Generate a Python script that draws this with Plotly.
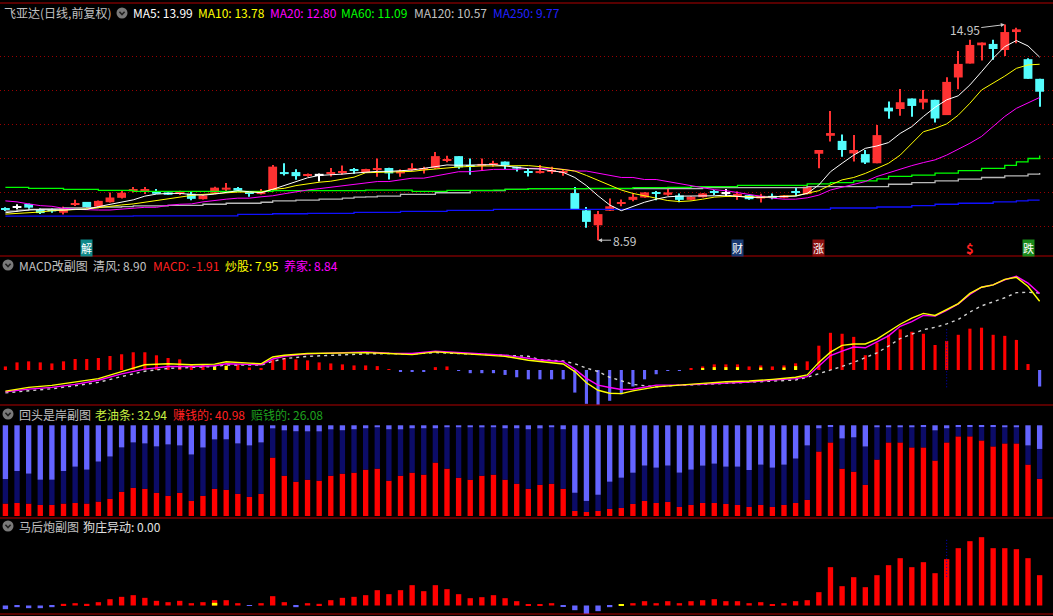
import plotly.graph_objects as go

# ------------------------------------------------------------------ data
opens = [9.54, 9.58, 9.66, 9.50, 9.50, 9.40, 9.64, 9.72, 9.58, 9.71,
         9.84, 10.03, 10.07, 10.03, 10.00, 9.98, 9.96, 9.80, 9.99, 10.08,
         10.13, 9.99, 9.95, 10.07, 10.60, 10.60, 10.50, 10.53, 10.57, 10.59,
         10.67, 10.59, 10.69, 10.72, 10.56, 10.66, 10.67, 10.72, 10.94, 11.07,
         10.78, 10.78, 10.82, 10.91, 10.76, 10.61, 10.57, 10.63, 10.59, 9.98,
         9.47, 9.03, 9.46, 9.67, 9.78, 9.85, 9.99, 9.93, 9.91, 9.78,
         9.86, 10.01, 9.99, 9.93, 9.92, 9.82, 9.89, 9.84, 10.03, 9.95,
         11.14, 11.67, 11.52, 11.15, 11.13, 10.86, 12.50, 12.46, 12.77, 12.65,
         12.73, 12.28, 13.39, 13.80, 14.34, 14.38, 14.20, 14.73, 13.93, 13.35]
highs = [9.56, 9.65, 9.67, 9.53, 9.53, 9.58, 9.78, 9.72, 9.76, 10.00,
         10.05, 10.16, 10.16, 10.10, 10.00, 10.05, 10.02, 9.92, 10.17, 10.28,
         10.16, 10.02, 10.10, 10.81, 10.86, 10.68, 10.56, 10.56, 10.72, 10.79,
         10.72, 10.70, 11.00, 10.73, 10.68, 10.86, 10.76, 11.19, 11.08, 11.07,
         11.00, 11.00, 10.93, 10.91, 10.76, 10.69, 10.81, 10.76, 10.66, 10.16,
         9.57, 9.45, 9.82, 9.79, 9.97, 10.01, 10.04, 10.10, 9.97, 9.89,
         9.98, 10.07, 10.10, 10.03, 9.92, 9.96, 9.97, 9.92, 10.15, 10.18,
         11.25, 12.40, 11.71, 11.69, 11.25, 11.99, 12.68, 13.05, 12.77, 13.02,
         12.73, 13.40, 14.17, 14.50, 14.42, 14.50, 14.95, 14.86, 13.96, 13.35]
lows = [9.45, 9.50, 9.52, 9.36, 9.40, 9.35, 9.60, 9.57, 9.57, 9.70,
        9.82, 10.00, 9.95, 9.96, 9.93, 9.92, 9.77, 9.79, 9.98, 10.03,
        10.02, 9.87, 9.94, 10.03, 10.50, 10.37, 10.46, 10.32, 10.47, 10.52,
        10.55, 10.58, 10.46, 10.38, 10.46, 10.64, 10.56, 10.70, 10.89, 10.70,
        10.52, 10.66, 10.76, 10.69, 10.62, 10.47, 10.56, 10.55, 10.49, 9.50,
        8.96, 8.59, 9.45, 9.59, 9.74, 9.84, 9.77, 9.90, 9.71, 9.77,
        9.85, 9.92, 9.88, 9.78, 9.78, 9.70, 9.80, 9.83, 9.89, 9.94,
        10.71, 11.50, 11.05, 10.91, 10.84, 10.86, 12.17, 12.26, 12.23, 12.45,
        12.06, 12.28, 13.04, 13.80, 13.89, 13.91, 14.02, 14.40, 13.35, 12.53]
closes = [9.48, 9.58, 9.55, 9.39, 9.44, 9.54, 9.66, 9.57, 9.75, 9.85,
          9.99, 10.10, 10.09, 9.96, 9.93, 10.00, 9.81, 9.91, 10.14, 10.14,
          10.05, 9.97, 10.03, 10.76, 10.54, 10.48, 10.52, 10.53, 10.59, 10.61,
          10.65, 10.69, 10.71, 10.56, 10.63, 10.72, 10.69, 11.07, 10.96, 10.74,
          10.76, 10.84, 10.86, 10.79, 10.70, 10.59, 10.63, 10.65, 10.61, 9.50,
          9.13, 9.36, 9.59, 9.69, 9.87, 10.00, 9.97, 10.00, 9.78, 9.87,
          9.97, 9.99, 9.99, 9.95, 9.80, 9.90, 9.87, 9.91, 10.01, 10.17,
          11.25, 11.75, 11.25, 11.25, 10.88, 11.69, 12.39, 12.66, 12.55, 12.76,
          12.18, 13.26, 13.79, 14.35, 14.42, 14.23, 14.73, 14.81, 13.35, 12.97]

ma5 = [9.40, 9.45, 9.48, 9.49, 9.48, 9.48, 9.50, 9.50, 9.58, 9.65,
       9.71, 9.78, 9.89, 9.95, 9.97, 9.97, 9.94, 9.92, 9.95, 10.00,
       10.05, 10.02, 9.99, 10.09, 10.21, 10.31, 10.43, 10.50, 10.51, 10.54,
       10.57, 10.60, 10.62, 10.62, 10.63, 10.66, 10.71, 10.77, 10.81, 10.80,
       10.80, 10.82, 10.82, 10.78, 10.73, 10.70, 10.69, 10.65, 10.59, 10.44,
       10.20, 9.90, 9.63, 9.46, 9.58, 9.71, 9.80, 9.87, 9.89, 9.89,
       9.88, 9.90, 9.92, 9.89, 9.85, 9.86, 9.86, 9.88, 9.89, 9.97,
       10.22, 10.61, 10.86, 11.10, 11.30, 11.37, 11.47, 11.74, 11.94, 12.24,
       12.51, 12.73, 12.85, 13.17, 13.56, 13.96, 14.30, 14.48, 14.32, 13.99]
ma10 = [9.36, 9.38, 9.39, 9.42, 9.46, 9.48, 9.48, 9.51, 9.55, 9.60,
        9.63, 9.66, 9.71, 9.78, 9.83, 9.88, 9.91, 9.94, 9.97, 10.00,
        10.01, 10.01, 10.01, 10.09, 10.12, 10.20, 10.26, 10.30, 10.33, 10.38,
        10.45, 10.58, 10.59, 10.59, 10.60, 10.62, 10.66, 10.70, 10.72, 10.75,
        10.77, 10.78, 10.78, 10.79, 10.79, 10.79, 10.76, 10.72, 10.68, 10.63,
        10.50, 10.36, 10.22, 10.07, 9.97, 9.90, 9.82, 9.76, 9.73, 9.75,
        9.80, 9.86, 9.88, 9.89, 9.88, 9.85, 9.88, 9.89, 9.90, 9.97,
        10.05, 10.22, 10.37, 10.44, 10.56, 10.71, 10.86, 11.10, 11.45, 11.79,
        11.89, 12.02, 12.28, 12.63, 13.02, 13.22, 13.43, 13.66, 13.76, 13.78]
ma20 = [9.75, 9.72, 9.66, 9.61, 9.59, 9.53, 9.50, 9.48, 9.48, 9.48,
        9.51, 9.53, 9.56, 9.56, 9.62, 9.65, 9.66, 9.72, 9.77, 9.80,
        9.83, 9.83, 9.87, 9.90, 9.96, 10.02, 10.07, 10.11, 10.15, 10.19,
        10.25, 10.27, 10.32, 10.32, 10.37, 10.42, 10.42, 10.48, 10.56, 10.61,
        10.61, 10.64, 10.68, 10.68, 10.68, 10.71, 10.71, 10.71, 10.68, 10.63,
        10.63, 10.56, 10.51, 10.44, 10.44, 10.38, 10.38, 10.32, 10.27, 10.21,
        10.15, 10.08, 10.05, 9.99, 9.95, 9.88, 9.83, 9.80, 9.80, 9.84,
        9.92, 10.07, 10.15, 10.24, 10.32, 10.47, 10.58, 10.68, 10.79, 10.88,
        10.96, 11.10, 11.27, 11.45, 11.65, 11.94, 12.24, 12.48, 12.63, 12.80]
ma60 = [10.15, 10.15, 10.12, 10.12, 10.12, 10.09, 10.09, 10.09, 10.06, 10.06,
        10.06, 10.03, 10.03, 10.03, 10.03, 10.03, 10.03, 10.03, 10.03, 10.03,
        10.03, 10.03, 10.03, 10.05, 10.05, 10.05, 10.05, 10.05, 10.05, 10.05,
        10.05, 10.07, 10.07, 10.07, 10.07, 10.03, 10.03, 10.03, 10.06, 10.06,
        10.06, 10.06, 10.07, 10.09, 10.09, 10.11, 10.11, 10.11, 10.11, 10.11,
        10.12, 10.12, 10.12, 10.12, 10.14, 10.14, 10.14, 10.15, 10.15, 10.17,
        10.17, 10.17, 10.17, 10.21, 10.21, 10.21, 10.21, 10.21, 10.21, 10.25,
        10.25, 10.29, 10.29, 10.34, 10.34, 10.40, 10.47, 10.47, 10.51, 10.51,
        10.57, 10.57, 10.64, 10.64, 10.71, 10.71, 10.80, 10.90, 11.00, 11.09]
ma120 = [9.45, 9.48, 9.50, 9.51, 9.51, 9.54, 9.54, 9.55, 9.57, 9.57,
         9.58, 9.60, 9.60, 9.60, 9.62, 9.62, 9.62, 9.65, 9.65, 9.68,
         9.68, 9.68, 9.71, 9.75, 9.75, 9.77, 9.77, 9.80, 9.80, 9.83,
         9.86, 9.87, 9.89, 9.89, 9.94, 9.94, 9.94, 9.99, 9.99, 9.99,
         10.05, 10.05, 10.05, 10.09, 10.09, 10.11, 10.11, 10.11, 10.11, 10.11,
         10.11, 10.11, 10.11, 10.11, 10.11, 10.11, 10.11, 10.11, 10.11, 10.11,
         10.14, 10.14, 10.14, 10.14, 10.14, 10.14, 10.14, 10.14, 10.14, 10.17,
         10.17, 10.17, 10.17, 10.17, 10.17, 10.17, 10.24, 10.24, 10.29, 10.29,
         10.34, 10.34, 10.39, 10.39, 10.44, 10.44, 10.49, 10.49, 10.54, 10.57]
ma250 = [9.30, 9.30, 9.30, 9.30, 9.30, 9.30, 9.30, 9.30, 9.30, 9.30,
         9.30, 9.31, 9.31, 9.31, 9.31, 9.31, 9.31, 9.31, 9.31, 9.31,
         9.35, 9.35, 9.35, 9.37, 9.37, 9.37, 9.38, 9.38, 9.38, 9.38,
         9.41, 9.41, 9.41, 9.41, 9.44, 9.44, 9.44, 9.44, 9.47, 9.47,
         9.47, 9.47, 9.50, 9.50, 9.50, 9.50, 9.50, 9.50, 9.50, 9.50,
         9.50, 9.50, 9.50, 9.50, 9.50, 9.50, 9.50, 9.50, 9.50, 9.50,
         9.50, 9.50, 9.50, 9.50, 9.50, 9.50, 9.50, 9.50, 9.50, 9.50,
         9.50, 9.54, 9.54, 9.54, 9.54, 9.57, 9.57, 9.57, 9.61, 9.61,
         9.65, 9.65, 9.68, 9.68, 9.68, 9.72, 9.72, 9.75, 9.77, 9.77]

# MACD sub-chart
macd_hist = [0.41, 0.88, 1.00, 0.88, 0.76, 1.00, 1.27, 1.27, 1.39, 1.62,
             1.82, 2.05, 2.05, 1.70, 1.39, 1.23, 0.61, 0.61, 0.41, 0.49,
             0.61, 0.29, 0.18, 1.19, 1.39, 1.23, 1.11, 0.88, 0.76, 0.65,
             0.53, 0.53, 0.45, 0.06, -0.18, -0.18, -0.18, 0.33, 0.41, -0.06,
             -0.37, -0.37, -0.37, -0.57, -0.84, -1.08, -1.08, -1.08, -1.08, -2.61,
             -3.91, -4.03, -3.56, -2.81, -1.91, -1.08, -0.49, -0.06, -0.06, 0.18,
             0.41, 0.65, 0.65, 0.65, 0.41, 0.53, 0.41, 0.53, 0.77, 1.00,
             2.81, 4.30, 4.19, 3.83, 1.71, 3.16, 4.07, 4.70, 4.42, 4.19,
             2.89, 3.36, 4.07, 4.78, 4.89, 4.07, 3.95, 3.48, 0.69, -1.91]
macd_yellow = [0, 0, 0, 0, 0, 0, 0, 0, 0, 0,
               0, 0, 0, 0, 0, 0, 0, 0, 0.41, 0.49,
               0, 0, 0, 0, 0, 0, 0, 0, 0, 0,
               0, 0, 0, 0, 0, 0, 0, 0, 0, 0,
               0, 0, 0, 0, 0, 0, 0, 0, 0, 0,
               0, 0, 0, 0, 0, 0, 0, 0, 0, 0,
               0.18, 0.33, 0.33, 0.33, 0, 0.29, 0, 0.29, 0.45, 0,
               0, 0, 0, 0, 0, 0, 0, 0, 0, 0,
               0, 0, 0, 0, 0, 0, 0, 0, 0, 0]
macd_line_idx = [0, 2, 4, 6, 8, 10, 12, 14, 16, 18,
                 19, 21, 22, 23, 24, 26, 28, 31, 33, 35,
                 37, 39, 41, 43, 45, 46, 48, 49, 50, 51,
                 52, 53, 54, 56, 58, 60, 62, 64, 66, 68,
                 69, 70, 71, 72, 73, 74, 75, 76, 77, 78,
                 79, 80, 81, 82, 83, 84, 85, 86, 87, 88, 89]
chaogu = [-2.44, -2.01, -1.78, -1.43, -1.00, -0.18, 0.61, 0.72, 0.61, 0.68,
          0.96, 0.80, 0.72, 1.51, 1.70, 1.90, 1.97, 2.01, 1.90, 1.78,
          2.09, 1.90, 1.70, 1.58, 1.12, 0.96, 0.69, -0.18, -1.47, -2.34,
          -2.69, -2.73, -2.42, -1.95, -1.79, -1.55, -1.36, -1.28, -1.08, -0.84,
          -0.57, 0.88, 2.06, 2.85, 3.01, 3.01, 3.56, 4.42, 5.29, 5.99,
          6.54, 6.31, 7.02, 7.68, 8.86, 9.57, 9.84, 10.47, 10.71, 9.65, 7.95]
yangjia = [-2.52, -2.21, -2.01, -1.66, -1.19, -0.45, 0.10, 0.41, 0.41, 0.49,
           0.72, 0.61, 0.61, 1.27, 1.58, 1.86, 1.97, 2.09, 1.94, 1.90,
           2.17, 2.01, 1.90, 1.70, 1.36, 1.16, 0.96, 0.10, -0.96, -1.75,
           -2.02, -2.26, -2.22, -1.75, -1.75, -1.63, -1.47, -1.40, -1.16, -1.00,
           -0.77, 0.41, 1.67, 2.18, 2.65, 2.57, 3.24, 3.95, 5.05, 5.60,
           6.31, 6.23, 6.90, 7.64, 8.74, 9.57, 9.84, 10.43, 10.83, 10.04, 8.84]
qingfeng = [-2.64, -2.40, -2.17, -1.82, -1.43, -0.76, -0.14, 0.18, 0.29, 0.41,
            0.57, 0.53, 0.57, 1.00, 1.31, 1.58, 1.70, 1.86, 1.90, 1.86,
            2.01, 1.90, 1.78, 1.66, 1.59, 1.20, 1.04, 0.73, 0.22, -0.18,
            -0.84, -1.24, -1.67, -1.95, -1.75, -1.67, -1.55, -1.43, -1.28, -1.16,
            -0.84, -0.45, 0.02, 0.41, 0.88, 1.40, 1.98, 2.77, 3.64, 4.15,
            4.66, 4.93, 5.33, 5.84, 6.70, 7.41, 7.88, 8.35, 8.94, 8.98, 8.90]

# 回头是岸 sub-chart (percent shares)
zhuanqian_pct = [13.7, 14.4, 13.7, 12.2, 12.2, 13.7, 14.4, 13.7, 15.9, 18.9,
                 26.7, 31.1, 30.0, 25.6, 22.2, 25.6, 16.7, 22.2, 30.0, 28.9,
                 24.4, 21.1, 24.4, 64.4, 44.4, 37.8, 40.0, 38.9, 44.4, 46.7,
                 47.8, 51.1, 52.2, 38.9, 44.4, 47.8, 45.6, 58.9, 52.2, 42.2,
                 40.0, 44.4, 45.6, 40.0, 35.6, 30.0, 34.4, 35.6, 30.0, 5.6,
                 4.4, 5.6, 7.8, 8.9, 13.3, 16.7, 14.4, 15.6, 10.0, 12.2,
                 14.4, 14.4, 13.3, 12.2, 10.0, 12.2, 10.0, 12.2, 14.4, 17.8,
                 71.1, 81.1, 52.2, 48.9, 34.4, 62.2, 81.1, 81.1, 75.6, 75.6,
                 61.1, 81.1, 87.8, 87.8, 83.3, 76.7, 80.0, 80.0, 56.7, 40.98]
laoyoutiao_pct = [27.0, 35.2, 33.0, 27.8, 27.8, 35.9, 40.0, 37.4, 44.1, 46.7,
                  48.9, 50.0, 50.0, 51.1, 56.7, 52.2, 51.1, 53.3, 54.4, 55.6,
                  55.6, 56.7, 56.7, 32.2, 50.0, 55.6, 53.3, 54.4, 51.1, 47.8,
                  47.8, 45.6, 45.6, 56.7, 51.1, 48.9, 51.1, 37.8, 45.6, 55.6,
                  57.8, 53.3, 52.2, 56.7, 61.1, 65.6, 62.2, 62.2, 65.6, 20.0,
                  12.2, 17.8, 30.0, 33.3, 34.4, 38.9, 38.9, 40.0, 37.8, 38.9,
                  41.1, 43.3, 41.1, 42.2, 40.7, 44.4, 43.3, 44.4, 48.9, 60.0,
                  25.6, 17.8, 33.3, 37.8, 42.2, 35.6, 16.7, 16.7, 22.2, 23.3,
                  33.3, 15.6, 11.1, 11.1, 15.6, 22.2, 17.8, 17.8, 21.1, 32.94]
TOTAL_PCT = 100

# 马后炮 sub-chart
gouzhuang = [-11, -5, -8, -8, -5, 5, 7, 5, 10, 19,
             26, 31, 23, 14, 10, 14, 7, 10, 16, 16,
             7, -1, 7, 28, 10, -5, 7, 5, 16, 23,
             26, 31, 46, 34, 46, 61, 43, 61, 49, 34,
             22, 25, 31, 22, 13, 4, 4, 7, -2, -14,
             -26, -17, -5, 0, 7, 13, 7, 13, 7, 13,
             16, 19, 13, 13, 7, 10, 4, 7, 13, 16,
             40, 115, 58, 85, 55, 91, 121, 142, 115, 130,
             97, 139, 172, 193, 205, 172, 172, 169, 142, 91]
gouzhuang_yellow = [0, 0, 0, 0, 0, 0, 0, 0, 0, 0,
                    0, 0, 0, 0, 0, 0, 0, 0, 8, 0,
                    0, 0, 0, 0, 0, 0, 0, 0, 0, 0,
                    0, 0, 0, 0, 0, 0, 0, 0, 0, 0,
                    0, 0, 0, 0, 0, 0, 0, 0, 0, 0,
                    0, 0, 0, 3, 0, 0, 0, 0, 0, 0,
                    0, 0, 0, 0, 0, 0, 0, 0, 0, 0,
                    0, 0, 0, 0, 0, 0, 0, 0, 0, 0,
                    0, 0, 0, 0, 0, 0, 0, 0, 0, 0]

signal_idx = [7, 63, 70, 83, 88]
signal_txt = ["解", "财", "涨", "$", "跌"]
cursor_idx = 81
high_idx, low_idx = 86, 51

# ------------------------------------------------------------------ style
W, H = 1053, 616
FONT = "Noto Sans CJK SC"
RED, CYAN, WHITE = "#ff3232", "#54fcfc", "#ffffff"
BAR_RED, BAR_BLUE, BAR_YEL = "#ff0000", "#6464ff", "#ffff00"
NAVY = "#0c0c68"
SEP = "#b00000"


def py(y):
    return 1 - y / H


def pxf(x):
    return x / W


n = len(closes)
idx = list(range(n))

cols = [RED if c > o else (CYAN if c < o else WHITE) for o, c in zip(opens, closes)]
MINB = 0.035
body_h = [max(abs(c - o), MINB) for o, c in zip(opens, closes)]
body_b = [min(o, c) - (bh - abs(c - o)) / 2 for o, c, bh in zip(opens, closes, body_h)]

fig = go.Figure()

# main candles
fig.add_trace(go.Bar(x=idx, y=[h - l for h, l in zip(highs, lows)], base=lows, width=0.09,
                     marker=dict(color=cols, line=dict(width=0)), yaxis="y"))
fig.add_trace(go.Bar(x=idx, y=body_h, base=body_b, width=0.76,
                     marker=dict(color=cols, line=dict(width=0)), yaxis="y"))
for vals, c, shp, lw in [(ma250, "#1010ff", "hv", 1.3), (ma120, "#b8b8b8", "hv", 1.3), (ma60, "#00ff00", "hv", 1.3),
                         (ma20, "#ff00ff", "linear", 1), (ma10, "#ffff00", "linear", 1),
                         (ma5, "#ffffff", "linear", 1)]:
    fig.add_trace(go.Scatter(x=idx, y=vals, mode="lines", line=dict(color=c, width=lw, shape=shp),
                             yaxis="y"))

# MACD
fig.add_trace(go.Bar(x=idx, y=macd_hist, width=0.27,
                     marker=dict(color=[BAR_RED if v > 0 else BAR_BLUE for v in macd_hist], line=dict(width=0)),
                     yaxis="y2"))
fig.add_trace(go.Bar(x=idx, y=macd_yellow, width=0.27, marker=dict(color=BAR_YEL, line=dict(width=0)),
                     yaxis="y2"))
fig.add_trace(go.Scatter(x=macd_line_idx, y=qingfeng, mode="lines",
                         line=dict(color="#d0d0d0", width=1.4, dash="3px,4px"), yaxis="y2"))
fig.add_trace(go.Scatter(x=macd_line_idx, y=yangjia, mode="lines", line=dict(color="#ff00ff", width=1.4),
                         yaxis="y2"))
fig.add_trace(go.Scatter(x=macd_line_idx, y=chaogu, mode="lines", line=dict(color="#ffff00", width=1.4),
                         yaxis="y2"))

# 回头是岸
peifei = [TOTAL_PCT - a - b for a, b in zip(zhuanqian_pct, laoyoutiao_pct)]
fig.add_trace(go.Bar(x=idx, y=zhuanqian_pct, base=0, width=0.46,
                     marker=dict(color=BAR_RED, line=dict(width=0)), yaxis="y3"))
fig.add_trace(go.Bar(x=idx, y=laoyoutiao_pct, base=zhuanqian_pct, width=0.46,
                     marker=dict(color=NAVY, line=dict(width=0)), yaxis="y3"))
fig.add_trace(go.Bar(x=idx, y=peifei, base=[a + b for a, b in zip(zhuanqian_pct, laoyoutiao_pct)], width=0.46,
                     marker=dict(color=BAR_BLUE, line=dict(width=0)), yaxis="y3"))

# 马后炮
fig.add_trace(go.Bar(x=idx, y=gouzhuang, width=0.46,
                     marker=dict(color=[BAR_RED if v > 0 else BAR_BLUE for v in gouzhuang], line=dict(width=0)),
                     yaxis="y4"))
fig.add_trace(go.Bar(x=idx, y=gouzhuang_yellow, width=0.46, marker=dict(color=BAR_YEL, line=dict(width=0)),
                     yaxis="y4"))


# ------------------------------------------------------------------ axes
def price_at(y):
    return 9 + (226.3 - y) / 33.9


def macd_at(y):
    return (370 - y) * 0.1156


def p3_at(y):
    return (516 - y) / 0.907


def p4_at(y):
    return (605.5 - y) * 3.0


MAIN_PX, MACD_PX, P3_PX, P4_PX = (3, 256), (256, 405), (405, 518), (518, 614)

noax = dict(showticklabels=False, ticks="", zeroline=False, showline=False, fixedrange=True)
fig.update_layout(
    width=W, height=H, margin=dict(l=0, r=0, t=0, b=0),
    paper_bgcolor="#000000", plot_bgcolor="#000000",
    showlegend=False, barmode="overlay", hovermode=False,
    xaxis=dict(range=[-0.465, 90.15], showgrid=False, **noax),
    yaxis=dict(domain=[py(MAIN_PX[1]), py(MAIN_PX[0])], range=[price_at(MAIN_PX[1]), price_at(MAIN_PX[0])],
               tickvals=[9, 10, 11, 12, 13, 14], showgrid=True, gridcolor="#9a0000", gridwidth=1,
               griddash="1px,3px", **noax),
    yaxis2=dict(domain=[py(MACD_PX[1]), py(MACD_PX[0])], range=[macd_at(MACD_PX[1]), macd_at(MACD_PX[0])],
                showgrid=False, anchor="x", **noax),
    yaxis3=dict(domain=[py(P3_PX[1]), py(P3_PX[0])], range=[p3_at(P3_PX[1]), p3_at(P3_PX[0])],
                showgrid=False, anchor="x", **noax),
    yaxis4=dict(domain=[py(P4_PX[1]), py(P4_PX[0])], range=[p4_at(P4_PX[1]), p4_at(P4_PX[0])],
                showgrid=False, anchor="x", **noax),
)

shapes = []
for yy in [3, 256, 405, 518, 614]:
    shapes.append(dict(type="line", xref="paper", yref="paper", x0=0, x1=1, y0=py(yy), y1=py(yy),
                       line=dict(color=SEP, width=1.2)))
# cursor marks
shapes.append(dict(type="line", xref="x", yref="y2", x0=cursor_idx, x1=cursor_idx, y0=-2.0, y1=4.9,
                   line=dict(color="#0000c8", width=1, dash="1px,2px")))
shapes.append(dict(type="line", xref="x", yref="y4", x0=cursor_idx, x1=cursor_idx, y0=86, y1=200,
                   line=dict(color="#0000c8", width=1, dash="1px,2px")))


def icon(cx, cy):
    r = 5.5
    s = [dict(type="circle", xref="paper", yref="paper", x0=pxf(cx - r), x1=pxf(cx + r), y0=py(cy + r),
              y1=py(cy - r), fillcolor="#7a7a7a", line=dict(width=0)),
         dict(type="path", xref="paper", yref="paper",
              path=f"M {pxf(cx - 2.6)},{py(cy - 1.2)} L {pxf(cx)},{py(cy + 1.6)} L {pxf(cx + 2.6)},{py(cy - 1.2)}",
              line=dict(color="#202020", width=1.6))]
    return s


for cx, cy in [(122, 13), (8, 265), (8, 414), (8, 526)]:
    shapes += icon(cx, cy)
fig.update_layout(shapes=shapes)

ann = []


def label(x, y, text, color, size=12):
    ann.append(dict(x=pxf(x), y=py(y), xref="paper", yref="paper", text=text, showarrow=False,
                    xanchor="left", yanchor="middle", font=dict(family=FONT, size=size, color=color)))


GREY = "#c0c0c0"
label(2, 13, "飞亚达(日线,前复权)", GREY)
label(131, 13, "MA5: 13.99", "#ffffff")
label(196, 13, "MA10: 13.78", "#ffff00")
label(268, 13, "MA20: 12.80", "#ff00ff")
label(339, 13, "MA60: 11.09", "#00ff00")
label(412, 13, "MA120: 10.57", GREY)
label(491, 13, "MA250: 9.77", "#2020ff")

label(17, 265, "MACD改副图", GREY)
label(91, 265, "清风: 8.90", GREY)
label(151, 265, "MACD: -1.91", "#ff2020")
label(223, 265, "炒股: 7.95", "#ffff00")
label(282, 265, "养家: 8.84", "#ff00ff")

label(17, 414, "回头是岸副图", GREY)
label(93, 414, "老油条: 32.94", "#c8f040")
label(171, 414, "赚钱的: 40.98", "#ff2020")
label(249, 414, "赔钱的: 26.08", "#1ea01e")

label(17, 526, "马后炮副图", GREY)
label(81, 526, "狗庄异动: 0.00", "#e0e0e0")

# high / low marks
ann.append(dict(x=high_idx, y=highs[high_idx], xref="x", yref="y", text=f"{highs[high_idx]:.2f}",
                showarrow=True, ax=-40, ay=5, arrowhead=2, arrowsize=0.8, arrowwidth=1, arrowcolor="#c8c8c8",
                font=dict(family=FONT, size=12, color="#c8c8c8")))
ann.append(dict(x=low_idx, y=lows[low_idx], xref="x", yref="y", text=f"{lows[low_idx]:.2f}",
                showarrow=True, ax=26, ay=0, arrowhead=2, arrowsize=0.8, arrowwidth=1, arrowcolor="#c8c8c8",
                font=dict(family=FONT, size=12, color="#c8c8c8")))

sig_bg = {"解": "#108a8a", "财": "#1a3a72", "涨": "#8a1010", "跌": "#1a8a1a"}
for i, t in zip(signal_idx, signal_txt):
    if t in sig_bg:
        ann.append(dict(x=i, y=py(248), xref="x", yref="paper", text=t, showarrow=False,
                        xanchor="center", yanchor="middle", bgcolor=sig_bg[t], borderpad=0,
                        font=dict(family=FONT, size=11, color="#ffffff")))
    else:
        ann.append(dict(x=i, y=py(248), xref="x", yref="paper", text="<b>$</b>", showarrow=False,
                        xanchor="center", yanchor="middle",
                        font=dict(family=FONT, size=13, color="#ff2020")))

fig.update_layout(annotations=ann)
fig.write_html("out.html", config={"displayModeBar": False},
               post_script="document.body.style.margin='0';document.body.style.padding='0';"
                           "document.body.style.background='#000';")
